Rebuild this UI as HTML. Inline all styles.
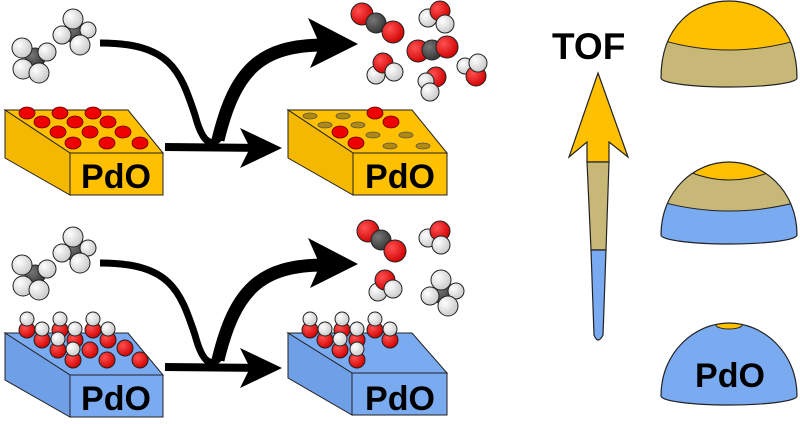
<!DOCTYPE html>
<html><head><meta charset="utf-8"><style>
html,body{margin:0;padding:0;background:#fff;width:800px;height:424px;overflow:hidden}
svg{display:block}
text{font-family:"Liberation Sans",sans-serif;font-weight:bold}
</style></head><body>
<svg width="800" height="424" viewBox="0 0 800 424" xmlns="http://www.w3.org/2000/svg">
<defs>
<radialGradient id="gH" cx="0.35" cy="0.35" r="0.7"><stop offset="0" stop-color="#fff"/><stop offset="1" stop-color="#c8c8c8"/></radialGradient>
<radialGradient id="gO" cx="0.35" cy="0.35" r="0.7"><stop offset="0" stop-color="#ff5050"/><stop offset="1" stop-color="#d00000"/></radialGradient>
<radialGradient id="gC" cx="0.35" cy="0.35" r="0.7"><stop offset="0" stop-color="#777"/><stop offset="1" stop-color="#333"/></radialGradient>
<g id="ch4" stroke="#222" stroke-width="1">
<circle cx="0" cy="0" r="10" fill="url(#gC)"/>
<circle cx="-13" cy="-10" r="10" fill="url(#gH)"/>
<circle cx="-12" cy="11" r="10" fill="url(#gH)"/>
<circle cx="4" cy="15" r="10" fill="url(#gH)"/>
<circle cx="12" cy="-6" r="9" fill="url(#gH)"/>
</g>
<g id="ch4b" stroke="#222" stroke-width="1">
<circle cx="0" cy="0" r="11" fill="url(#gC)"/>
<circle cx="-2" cy="-13" r="10" fill="url(#gH)"/>
<circle cx="-13" cy="3" r="9" fill="url(#gH)"/>
<circle cx="13" cy="-2" r="8" fill="url(#gH)"/>
<circle cx="5" cy="13" r="10" fill="url(#gH)"/>
</g>
<g id="arrows" fill="none" stroke="#000">
<path d="M100,43 C170,43 180,70 195,115 C203,145 212,148 222,135" stroke-width="7"/>
<path d="M218,140 C235,70 260,45 325,45" stroke-width="13"/>
<path d="M308,18 L358,44 L310,68 L320,45 Z" fill="#000" stroke="none"/>
<path d="M165,147 L262,148" stroke-width="8"/>
<path d="M240,128 L282,148 L240,168 L250,148 Z" fill="#000" stroke="none"/>
</g>
<g id="oh">
<circle cx="0" cy="0" r="8" fill="url(#gO)" stroke="#222"/>
<circle cx="0" cy="-11" r="7" fill="url(#gH)" stroke="#222"/>
</g>
<g id="o"><circle cx="0" cy="0" r="8" fill="url(#gO)" stroke="#222"/></g>
</defs>

<use href="#ch4" x="35" y="58"/>
<use href="#ch4b" x="75" y="32"/>
<use href="#arrows"/>

<g stroke="#222" stroke-width="1">
<polygon points="5,110 128,110 163,153 70,153" fill="#ffc000"/>
<polygon points="5,110 70,153 70,195 5,158" fill="#f5b800"/>
<rect x="70" y="153" width="93" height="42" fill="#ffc000"/>
</g>
<text x="116" y="188" font-size="34" text-anchor="middle">PdO</text>
<g fill="#e00" stroke="#600" stroke-width="0.8">
<ellipse cx="27" cy="113" rx="8" ry="6"/><ellipse cx="60" cy="113" rx="8" ry="6"/><ellipse cx="93" cy="113" rx="8" ry="6"/>
<ellipse cx="42" cy="122" rx="8" ry="6"/><ellipse cx="75" cy="122" rx="8" ry="6"/><ellipse cx="108" cy="122" rx="8" ry="6"/>
<ellipse cx="58" cy="132" rx="8" ry="6"/><ellipse cx="90" cy="132" rx="8" ry="6"/><ellipse cx="123" cy="132" rx="8" ry="6"/>
<ellipse cx="73" cy="143" rx="8" ry="6"/><ellipse cx="107" cy="143" rx="8" ry="6"/><ellipse cx="140" cy="143" rx="8" ry="6"/>
</g>

<g stroke="#222" stroke-width="1">
<polygon points="288,110 412,110 447,153 353,153" fill="#ffc000"/>
<polygon points="288,110 353,153 353,195 288,158" fill="#f5b800"/>
<rect x="353" y="153" width="94" height="42" fill="#ffc000"/>
</g>
<text x="400" y="188" font-size="34" text-anchor="middle">PdO</text>
<g fill="#b08a10" stroke="#555" stroke-width="0.8">
<ellipse cx="310" cy="116" rx="7" ry="3"/><ellipse cx="343" cy="116" rx="7" ry="3"/>
<ellipse cx="325" cy="125" rx="7" ry="3"/><ellipse cx="358" cy="125" rx="7" ry="3"/>
<ellipse cx="373" cy="135" rx="7" ry="3"/><ellipse cx="406" cy="135" rx="7" ry="3"/>
<ellipse cx="390" cy="146" rx="7" ry="3"/><ellipse cx="423" cy="146" rx="7" ry="3"/>
</g>
<g fill="#e00" stroke="#600" stroke-width="0.8">
<ellipse cx="375" cy="113" rx="8" ry="6"/><ellipse cx="391" cy="122" rx="8" ry="6"/>
<ellipse cx="340" cy="132" rx="8" ry="6"/><ellipse cx="356" cy="143" rx="8" ry="6"/>
</g>

<g stroke="#222" stroke-width="1">
<circle cx="362" cy="14" r="11" fill="url(#gO)"/><circle cx="376" cy="23" r="10" fill="url(#gC)"/><circle cx="393" cy="32" r="11" fill="url(#gO)"/>
<circle cx="428" cy="18" r="9" fill="url(#gH)"/><circle cx="440" cy="11" r="10" fill="url(#gO)"/><circle cx="445" cy="24" r="9" fill="url(#gH)"/>
<circle cx="418" cy="51" r="11" fill="url(#gO)"/><circle cx="432" cy="50" r="10" fill="url(#gC)"/><circle cx="447" cy="47" r="11" fill="url(#gO)"/>
<circle cx="376" cy="75" r="9" fill="url(#gH)"/><circle cx="383" cy="63" r="10" fill="url(#gO)"/><circle cx="394" cy="72" r="9" fill="url(#gH)"/>
<circle cx="436" cy="77" r="10" fill="url(#gO)"/><circle cx="426" cy="81" r="8" fill="url(#gH)"/><circle cx="430" cy="92" r="9" fill="url(#gH)"/>
<circle cx="465" cy="66" r="8" fill="url(#gH)"/><circle cx="476" cy="76" r="10" fill="url(#gO)"/><circle cx="478" cy="63" r="9" fill="url(#gH)"/>
</g>

<use href="#ch4" x="35" y="275"/>
<use href="#ch4b" x="75" y="250"/>
<use href="#arrows" y="220"/>

<g stroke="#222" stroke-width="1">
<polygon points="5,333 128,333 163,375 70,375" fill="#7aaaf0"/>
<polygon points="5,333 70,375 70,417 5,380" fill="#6f9fe6"/>
<rect x="70" y="375" width="93" height="42" fill="#7aaaf0"/>
</g>
<text x="116" y="410" font-size="34" text-anchor="middle">PdO</text>
<use href="#o" x="125" y="348"/><use href="#o" x="140" y="360"/><use href="#o" x="107" y="360"/><use href="#o" x="90" y="350"/>
<use href="#oh" x="27" y="330"/><use href="#oh" x="60" y="330"/><use href="#oh" x="93" y="330"/>
<use href="#oh" x="42" y="340"/><use href="#oh" x="75" y="340"/><use href="#oh" x="108" y="340"/>
<use href="#oh" x="58" y="350"/><use href="#oh" x="73" y="360"/>

<g stroke="#222" stroke-width="1">
<polygon points="288,333 412,333 447,373 352,373" fill="#7aaaf0"/>
<polygon points="288,333 352,373 352,415 288,378" fill="#6f9fe6"/>
<rect x="352" y="373" width="95" height="42" fill="#7aaaf0"/>
</g>
<text x="400" y="410" font-size="34" text-anchor="middle">PdO</text>
<use href="#oh" x="310" y="330"/><use href="#oh" x="342" y="330"/><use href="#oh" x="375" y="330"/>
<use href="#oh" x="325" y="340"/><use href="#oh" x="357" y="340"/><use href="#oh" x="390" y="340"/>
<use href="#oh" x="340" y="350"/><use href="#oh" x="357" y="360"/>

<g stroke="#222" stroke-width="1">
<circle cx="368" cy="231" r="11" fill="url(#gO)"/><circle cx="381" cy="240" r="10" fill="url(#gC)"/><circle cx="395" cy="251" r="11" fill="url(#gO)"/>
<circle cx="428" cy="238" r="9" fill="url(#gH)"/><circle cx="440" cy="231" r="10" fill="url(#gO)"/><circle cx="441" cy="245" r="9" fill="url(#gH)"/>
<circle cx="378" cy="292" r="9" fill="url(#gH)"/><circle cx="385" cy="280" r="10" fill="url(#gO)"/><circle cx="393" cy="289" r="9" fill="url(#gH)"/>
</g>
<use href="#ch4b" x="443" y="293"/>

<text x="552" y="59" font-size="37">TOF</text>
<g stroke="#222" stroke-width="1.2">
<path d="M598,73 L628,157 L609,142 L609,162 L587,162 L587,142 L569,157 Z" fill="#ffc000"/>
<path d="M587,162 L609,162 L606,250 L591,250 Z" fill="#c8b878"/>
<path d="M591,250 L606,250 L603,335 Q598,345 594,335 Z" fill="#7aaaf0"/>
</g>

<defs>
<clipPath id="d1"><path d="M661,78 C661,25 695,1 729,1 C763,1 797,25 797,78 A68,9 0 0 1 661,78 Z"/></clipPath>
<clipPath id="d2"><path d="M661,235 C661,190 695,162 729,162 C763,162 797,190 797,235 A68,9 0 0 1 661,235 Z"/></clipPath>
<clipPath id="d3"><path d="M661,396 C661,352 695,323 729,323 C763,323 797,352 797,396 A68,9 0 0 1 661,396 Z"/></clipPath>
</defs>
<g clip-path="url(#d1)"><rect x="655" y="0" width="150" height="100" fill="#c8b878"/><path d="M655,38 Q729,62 805,38 L805,0 L655,0 Z" fill="#ffc000" stroke="#222"/></g>
<path d="M661,78 C661,25 695,1 729,1 C763,1 797,25 797,78 A68,9 0 0 1 661,78 Z" fill="none" stroke="#222" stroke-width="1.2"/>
<g clip-path="url(#d2)"><rect x="655" y="160" width="150" height="90" fill="#7aaaf0"/><path d="M655,200 Q729,222 805,200 L805,160 L655,160 Z" fill="#c8b878" stroke="#222"/><path d="M685,170 Q729,190 775,170 L775,160 L685,160 Z" fill="#ffc000" stroke="#222"/></g>
<path d="M661,235 C661,190 695,162 729,162 C763,162 797,190 797,235 A68,9 0 0 1 661,235 Z" fill="none" stroke="#222" stroke-width="1.2"/>
<g clip-path="url(#d3)"><rect x="655" y="320" width="150" height="90" fill="#7aaaf0"/><ellipse cx="729" cy="325" rx="13" ry="4" fill="#ffc000" stroke="#222"/></g>
<path d="M661,396 C661,352 695,323 729,323 C763,323 797,352 797,396 A68,9 0 0 1 661,396 Z" fill="none" stroke="#222" stroke-width="1.2"/>
<text x="730" y="387" font-size="34" text-anchor="middle">PdO</text>
</svg>
</body></html>
